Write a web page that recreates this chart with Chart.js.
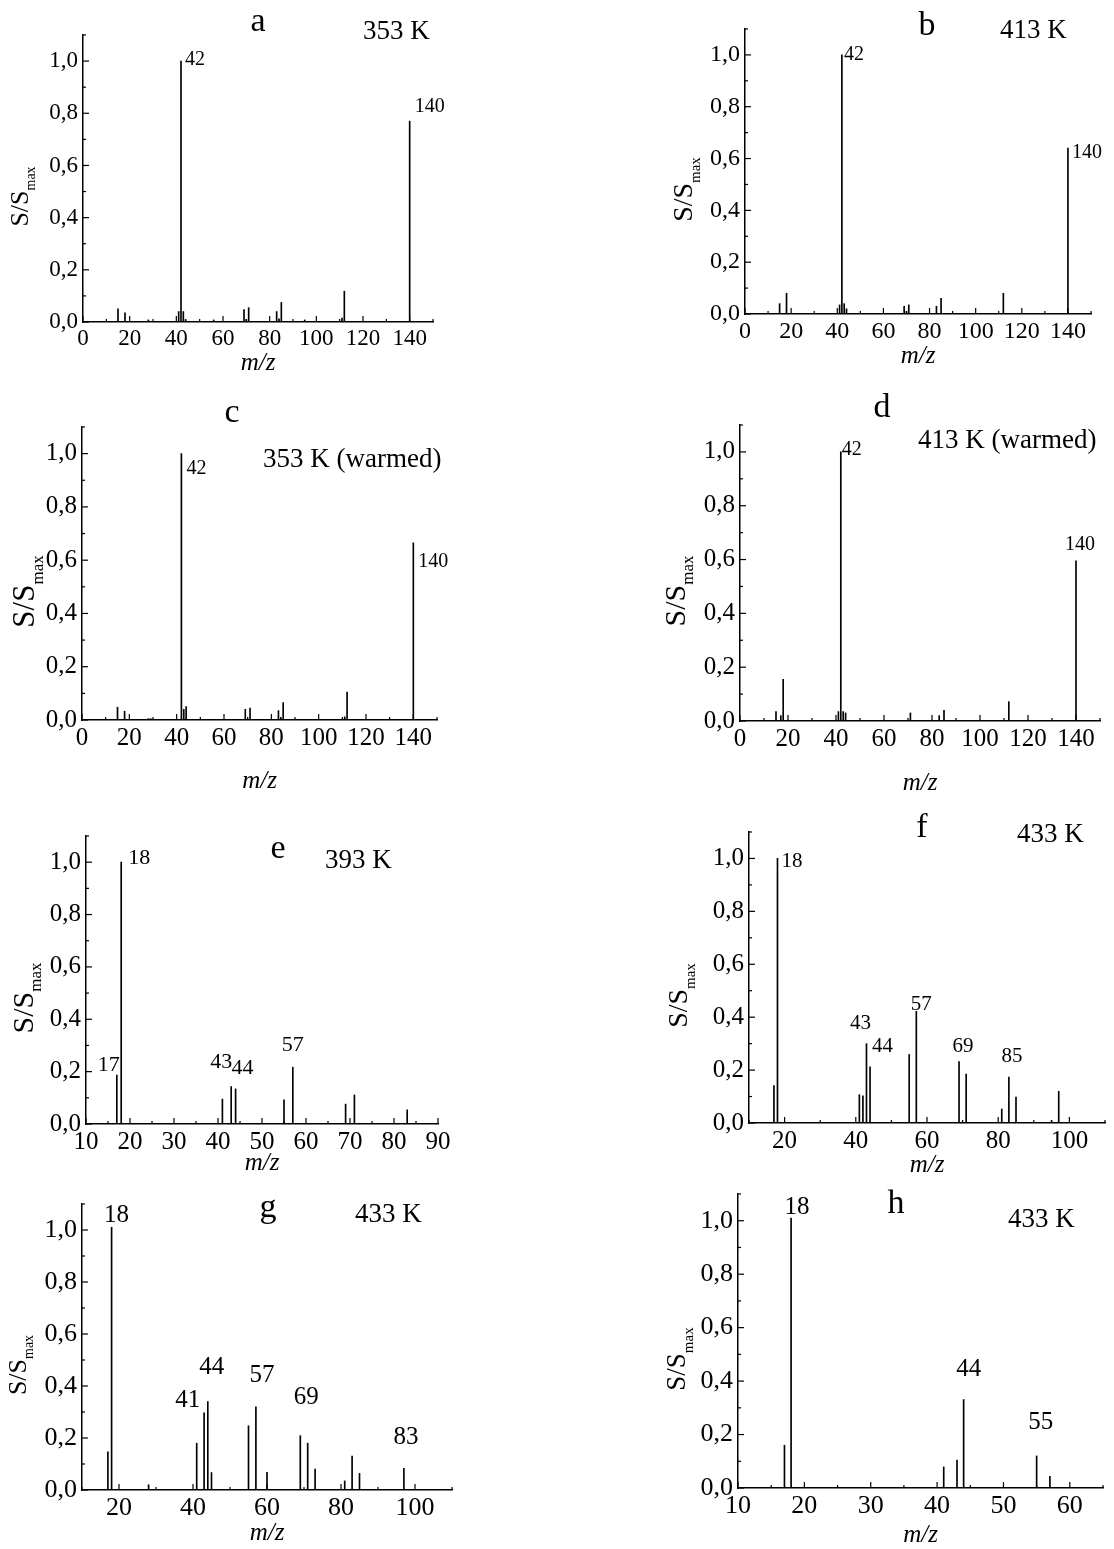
<!DOCTYPE html>
<html>
<head>
<meta charset="utf-8">
<script src="https://cdn.jsdelivr.net/npm/chart.js@4.4.1/dist/chart.umd.min.js"></script>
<style>
  html, body { margin: 0; padding: 0; background: #fff; overflow: hidden; }
  body { width: 1114px; height: 1549px; position: relative; }
  canvas { position: absolute; }
</style>
</head>
<body>
<canvas id="pa"></canvas>
<canvas id="pb"></canvas>
<canvas id="pc"></canvas>
<canvas id="pd"></canvas>
<canvas id="pe"></canvas>
<canvas id="pf"></canvas>
<canvas id="pg"></canvas>
<canvas id="ph"></canvas>
<script>
// m/z and relative intensity S/Smax of each spectrum
var mzA = [15, 18, 28, 41, 42, 43, 44, 56, 69, 70, 71, 83, 84, 85, 95, 111, 112, 140];
var sA  = [0.05, 0.035, 0.008, 0.04, 1.0, 0.04, 0.01, 0.008, 0.048, 0.01, 0.055, 0.04, 0.012, 0.075, 0.008, 0.015, 0.118, 0.77];
var mzB = [15, 18, 41, 42, 43, 44, 69, 70, 71, 83, 85, 112, 140];
var sB  = [0.04, 0.08, 0.035, 1.0, 0.04, 0.02, 0.03, 0.01, 0.035, 0.03, 0.06, 0.08, 0.64];
var mzC = [15, 18, 28, 29, 42, 43, 44, 69, 71, 83, 84, 85, 111, 112, 140];
var sC  = [0.048, 0.033, 0.005, 0.005, 1.0, 0.04, 0.05, 0.04, 0.045, 0.035, 0.01, 0.065, 0.012, 0.105, 0.665];
var mzD = [15, 17, 18, 41, 42, 43, 44, 71, 83, 85, 112, 140];
var sD  = [0.035, 0.02, 0.155, 0.035, 1.0, 0.035, 0.03, 0.03, 0.02, 0.04, 0.072, 0.595];
var mzE = [17, 18, 41, 43, 44, 55, 57, 69, 71, 83];
var sE  = [0.187, 1.0, 0.095, 0.143, 0.134, 0.092, 0.217, 0.076, 0.111, 0.054];
var mzF = [17, 18, 41, 42, 43, 44, 55, 57, 69, 71, 81, 83, 85, 95, 97];
var sF  = [0.141, 1.0, 0.107, 0.103, 0.30, 0.212, 0.259, 0.422, 0.232, 0.185, 0.053, 0.174, 0.098, 0.01, 0.12];
var mzG = [17, 18, 28, 41, 43, 44, 45, 55, 57, 60, 69, 71, 73, 81, 83, 85, 97];
var sG  = [0.147, 1.01, 0.02, 0.18, 0.297, 0.34, 0.067, 0.247, 0.32, 0.068, 0.209, 0.18, 0.08, 0.035, 0.13, 0.064, 0.083];
var mzH = [17, 18, 41, 43, 44, 55, 57];
var sH  = [0.16, 1.01, 0.079, 0.104, 0.331, 0.12, 0.044];

// peak annotations: [m/z of the peak it sits on, text]
var labA = [[42, '42'], [140, '140']];
var labB = [[42, '42'], [140, '140']];
var labC = [[42, '42'], [140, '140']];
var labD = [[42, '42'], [140, '140']];
var labE = [[17, '17'], [18, '18'], [43, '43'], [44, '44'], [57, '57']];
var labF = [[18, '18'], [43, '43'], [44, '44'], [57, '57'], [69, '69'], [85, '85']];
var labG = [[18, '18'], [41, '41'], [44, '44'], [57, '57'], [69, '69'], [97, '83']];
var labH = [[18, '18'], [44, '44'], [55, '55']];

var titles = ['a', 'b', 'c', 'd', 'e', 'f', 'g', 'h'];
var temps = ['353 K', '413 K', '353 K (warmed)', '413 K (warmed)', '393 K', '433 K', '433 K', '433 K'];

var FONT = "'Liberation Serif', 'Times New Roman', serif";
var INK = '#000';

// layout of each panel: plot box [left, top, right, bottom] in page px, x range [min, max, minor, major]
var panels = [
  { id: 'pa', mz: mzA, s: sA, lab: labA, box: [83, 35, 433, 322], xr: [0, 150, 10, 20], tf: 23, pf: 20, yf: 26, ytx: 55,
    let: [175, -4], tmp: [280, 4], xt: 48, off: [['l', 4, -1], ['l', 5, -14]] },
  { id: 'pb', mz: mzB, s: sB, lab: labB, box: [745, 29, 1091, 314], xr: [0, 150, 10, 20], tf: 24, pf: 20, yf: 28, ytx: 53,
    let: [182, 6], tmp: [255, 9], xt: 49, off: [['l', 2, 0], ['l', 4, 5]] },
  { id: 'pc', mz: mzC, s: sC, lab: labC, box: [82, 427, 437, 720], xr: [0, 150, 10, 20], tf: 25, pf: 20, yf: 31, ytx: 48,
    let: [150, -5], tmp: [181, 40], xt: 68, off: [['l', 5, 15], ['l', 5, 19]] },
  { id: 'pd', mz: mzD, s: sD, lab: labD, box: [740, 425, 1100, 721], xr: [0, 150, 10, 20], tf: 25, pf: 20, yf: 30, ytx: 55,
    let: [142, -8], tmp: [178, 23], xt: 69, off: [['l', 1, -2], ['c', 4, -16]] },
  { id: 'pe', mz: mzE, s: sE, lab: labE, box: [86, 836, 438, 1124], xr: [10, 90, 5, 10], tf: 25, pf: 22, yf: 30, ytx: 53,
    let: [192, 22], tmp: [239, 32], xt: 46,
    off: [['c', -8, -10], ['l', 7, -4], ['c', -10, -24], ['c', 7, -21], ['c', 0, -22]] },
  { id: 'pf', mz: mzF, s: sF, lab: labF, box: [749, 832, 1105, 1123], xr: [10, 110, 10, 20], tf: 25, pf: 21, yf: 28, ytx: 62,
    let: [173, 5], tmp: [268, 10], xt: 49,
    off: [['l', 4, 3], ['c', -6, -20], ['l', 2, -20], ['c', 5, -7], ['c', 4, -15], ['c', -4, -41]] },
  { id: 'pg', mz: mzG, s: sG, lab: labG, box: [82, 1204, 452, 1490], xr: [10, 110, 10, 20], tf: 26, pf: 25, yf: 26, ytx: 56,
    let: [186, 13], tmp: [273, 18], xt: 50,
    off: [['c', 5, -12], ['c', -9, -43], ['c', 4, -34], ['c', 6, -31], ['c', 6, -38], ['c', 2, -31]] },
  { id: 'ph', mz: mzH, s: sH, lab: labH, box: [738, 1194, 1103, 1488], xr: [10, 65, 5, 10], tf: 26, pf: 25, yf: 27, ytx: 53,
    let: [158, 19], tmp: [270, 33], xt: 54, off: [['c', 6, -11], ['c', 5, -30], ['c', 4, -33]] }
];

var PAD_L = 90, PAD_T = 45, PAD_R = 50, PAD_B = 85;

function fmt(v) {
  return v.toFixed(1).replace('.', ',');
}

function panelText(p, idx) {
  return {
    id: 'txt' + idx,
    afterDraw: function (chart) {
      var ctx = chart.ctx, a = chart.chartArea;
      var xs = chart.scales.x, ys = chart.scales.y;
      ctx.save();
      ctx.fillStyle = INK;
      ctx.strokeStyle = INK;
      ctx.lineWidth = 1.2;
      // ticks point into the plot, as in the original
      xs.ticks.forEach(function (t) {
        var px = xs.getPixelForValue(t.value);
        var len = Math.round(t.value) % p.xr[3] === 0 ? 6 : 3;
        ctx.beginPath();
        ctx.moveTo(px, a.bottom);
        ctx.lineTo(px, a.bottom - len);
        ctx.stroke();
      });
      ys.ticks.forEach(function (t) {
        var py = ys.getPixelForValue(t.value);
        var len = Math.round(t.value * 10) % 2 === 0 ? 6 : 3;
        ctx.beginPath();
        ctx.moveTo(a.left, py);
        ctx.lineTo(a.left + len, py);
        ctx.stroke();
      });

      ctx.textBaseline = 'alphabetic';
      ctx.textAlign = 'center';
      ctx.font = '34px ' + FONT;
      ctx.fillText(titles[idx], a.left + p.let[0], a.top + p.let[1]);
      ctx.textAlign = 'left';
      ctx.font = '27px ' + FONT;
      ctx.fillText(temps[idx], a.left + p.tmp[0], a.top + p.tmp[1]);

      ctx.textAlign = 'center';
      ctx.font = 'italic 25px ' + FONT;
      ctx.fillText('m/z', (a.left + a.right) / 2, a.bottom + p.xt);

      // peak numbers
      ctx.textBaseline = 'middle';
      ctx.font = p.pf + 'px ' + FONT;
      p.lab.forEach(function (lb, i) {
        var o = p.off[i];
        var k = p.mz.indexOf(lb[0]);
        var px = xs.getPixelForValue(lb[0]);
        var py = ys.getPixelForValue(p.s[k]);
        ctx.textAlign = o[0] === 'l' ? 'left' : 'center';
        ctx.fillText(lb[1], px + o[1], py + o[2]);
      });

      // S/Smax, rotated, with subscript
      var big = p.yf + 'px ' + FONT, small = Math.round(p.yf * 0.55) + 'px ' + FONT;
      ctx.font = big;
      var w1 = ctx.measureText('S/S').width;
      ctx.font = small;
      var w2 = ctx.measureText('max').width;
      ctx.translate(a.left - p.ytx, (a.top + a.bottom) / 2 + 18);
      ctx.rotate(-Math.PI / 2);
      ctx.textBaseline = 'alphabetic';
      ctx.textAlign = 'left';
      ctx.font = big;
      ctx.fillText('S/S', -(w1 + w2) / 2, 0);
      ctx.font = small;
      ctx.fillText('max', -(w1 + w2) / 2 + w1, p.yf * 0.28);
      ctx.restore();
    }
  };
}

panels.forEach(function (p, idx) {
  var cv = document.getElementById(p.id);
  var w = p.box[2] - p.box[0] + PAD_L + PAD_R;
  var h = p.box[3] - p.box[1] + PAD_T + PAD_B;
  cv.width = w;
  cv.height = h;
  cv.style.left = (p.box[0] - PAD_L) + 'px';
  cv.style.top = (p.box[1] - PAD_T) + 'px';
  cv.style.width = w + 'px';
  cv.style.height = h + 'px';

  var pts = p.mz.map(function (m, i) { return { x: m, y: p.s[i] }; });

  new Chart(cv.getContext('2d'), {
    type: 'bar',
    data: {
      datasets: [{
        data: pts,
        backgroundColor: INK,
        borderWidth: 0,
        barThickness: 1
      }]
    },
    options: {
      responsive: false,
      animation: false,
      layout: { padding: { left: 0, top: PAD_T, right: PAD_R, bottom: 0 } },
      plugins: { legend: { display: false }, tooltip: { enabled: false } },
      scales: {
        x: {
          type: 'linear',
          offset: false,
          min: p.xr[0],
          max: p.xr[1],
          afterFit: function (s) { s.height = PAD_B; },
          grid: { display: false, drawTicks: false },
          border: { display: true, color: INK, width: 1.5 },
          ticks: {
            stepSize: p.xr[2],
            autoSkip: false,
            maxRotation: 0,
            padding: 3,
            color: INK,
            font: { family: FONT, size: p.tf },
            callback: function (v) { return Math.round(v) % p.xr[3] === 0 ? String(v) : ''; }
          }
        },
        y: {
          min: 0,
          max: 1.1,
          afterFit: function (s) { s.width = PAD_L; },
          grid: { display: false, drawTicks: false },
          border: { display: true, color: INK, width: 1.5 },
          ticks: {
            stepSize: 0.1,
            autoSkip: false,
            padding: 5,
            color: INK,
            font: { family: FONT, size: p.tf },
            callback: function (v) {
              var k = Math.round(v * 10);
              return (k % 2 === 0 && k <= 10) ? fmt(v) : '';
            }
          }
        }
      }
    },
    plugins: [panelText(p, idx)]
  });
});
</script>
</body>
</html>
